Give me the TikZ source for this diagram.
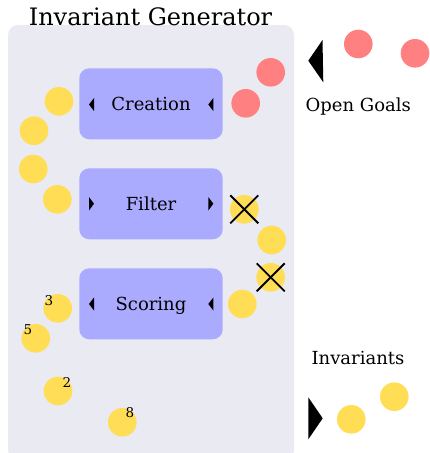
\documentclass[tikz,border=0pt]{standalone}
\usepackage{fontspec}
\setmainfont{DejaVu Serif}
\definecolor{bgcol}{HTML}{EAEAF2}
\definecolor{boxcol}{HTML}{AAAAFF}
\definecolor{yelcol}{HTML}{FFDD55}
\definecolor{redcol}{HTML}{FF8080}
\tikzset{
  procbox/.style={fill=boxcol, rounded corners=10pt, minimum width=143.4pt, minimum height=71pt, inner sep=0pt, text depth=0pt, font=\fontsize{18}{21}\selectfont},
  ydot/.style={circle, fill=yelcol, minimum size=28.6pt, inner sep=0pt},
  rdot/.style={circle, fill=redcol, minimum size=28.6pt, inner sep=0pt},
  lbl/.style={font=\fontsize{18}{21}\selectfont, inner sep=0pt, anchor=base},
  num/.style={font=\fontsize{13.5}{15}\selectfont, inner sep=0pt},
  crossline/.style={line width=1.8pt, black},
}
\begin{document}
\begin{tikzpicture}[x=1pt,y=-1pt]
\useasboundingbox (0,0) rectangle (429,453);
% background panel
\fill[bgcol, rounded corners=10pt] (8,25) rectangle (294,460);
\node[font=\fontsize{24}{28}\selectfont, inner sep=0pt, anchor=base] (title) at (150.5,25) {Invariant Generator};
% process boxes
\node[procbox] (creation) at (151,103.8) {Creation};
\node[procbox] (filter) at (151,203.8) {Filter};
\node[procbox] (scoring) at (151,303.8) {Scoring};
% small triangles
\fill (89,104.5) -- (94,98) -- (94,111) -- cycle;
\fill (208.3,104.5) -- (213.3,98) -- (213.3,111) -- cycle;
\fill (94,203.7) -- (89,197) -- (89,210.5) -- cycle;
\fill (213.3,203.7) -- (208.3,197) -- (208.3,210.5) -- cycle;
\fill (89,304) -- (94,297.5) -- (94,310.5) -- cycle;
\fill (208.3,304) -- (213.3,297.5) -- (213.3,310.5) -- cycle;
% big triangles
\fill (308.3,60.7) -- (322.5,40) -- (323.3,82.3) -- cycle;
\fill (322.7,418.3) -- (308.3,397.3) -- (308.3,439.3) -- cycle;
% labels
\node[lbl] (opengoals) at (358.3,111) {Open Goals};
\node[lbl] (invariants) at (358,364) {Invariants};
% red dots
\node[rdot] (r1) at (245.7,103.3) {};
\node[rdot] (r2) at (270.7,72.3) {};
\node[rdot] (r3) at (358.3,44) {};
\node[rdot] (r4) at (415,53.3) {};
% yellow dots (left of creation / filter)
\node[ydot] (y1) at (59,101.3) {};
\node[ydot] (y2) at (34,130.7) {};
\node[ydot] (y3) at (33.3,169) {};
\node[ydot] (y4) at (57.3,199.3) {};
% right of filter
\node[ydot] (y5) at (244.3,209.3) {};
\node[ydot] (y6) at (271.7,240) {};
\node[ydot] (y7) at (270.7,277.3) {};
\node[ydot] (y8) at (242.3,304) {};
% crosses
\draw[crossline] ([shift={(-14,-14)}]y5.center) -- ([shift={(14,14)}]y5.center);
\draw[crossline] ([shift={(-14,14)}]y5.center) -- ([shift={(14,-14)}]y5.center);
\draw[crossline] ([shift={(-14,-14)}]y7.center) -- ([shift={(14,14)}]y7.center);
\draw[crossline] ([shift={(-14,14)}]y7.center) -- ([shift={(14,-14)}]y7.center);
% scored dots
\node[ydot] (y9) at (57.7,308.3) {};
\node[ydot] (y10) at (35.7,338.3) {};
\node[ydot] (y11) at (58,391) {};
\node[ydot] (y12) at (122.3,422.3) {};
\node[num] (n3) at (49,300.5) {3};
\node[num] (n5) at (28,329.5) {5};
\node[num] (n2) at (67,382) {2};
\node[num] (n8) at (130,413) {8};
% invariants dots
\node[ydot] (y13) at (351.3,419.3) {};
\node[ydot] (y14) at (394.3,396.7) {};
\end{tikzpicture}
\end{document}
